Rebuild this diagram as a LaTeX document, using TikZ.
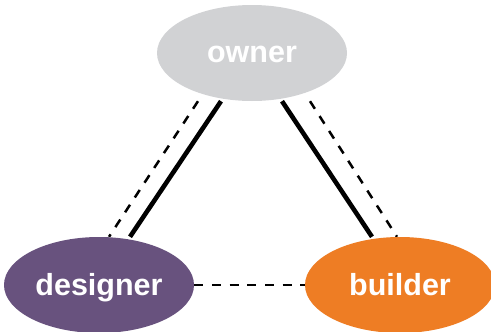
\documentclass[tikz,border=0pt]{standalone}
\usepackage{fontspec}
\setmainfont{Liberation Sans}
\usetikzlibrary{shapes.geometric,backgrounds}
\definecolor{ownergray}{HTML}{D1D2D4}
\definecolor{designerpurple}{HTML}{68527E}
\definecolor{builderorange}{HTML}{EE7D24}
\tikzset{
  party/.style={ellipse, inner sep=0pt, minimum width=190pt, minimum height=96pt,
    text height=20pt, text depth=0pt,
    text=white, font=\fontsize{30.5}{36}\selectfont\bfseries},
  strong/.style={line width=4.6pt},
  weak/.style={line width=2.5pt, dash pattern=on 9pt off 8.7pt},
}
\begin{document}
\begin{tikzpicture}[x=1pt,y=-1pt]
\useasboundingbox (0,0) rectangle (491,332);
\node[party, fill=ownergray] (owner) at (252,53) {owner};
\node[party, fill=designerpurple] (designer) at (99,285) {designer};
\node[party, fill=builderorange] (builder) at (400,285) {builder};
\begin{scope}[on background layer]
\draw[strong] ([xshift=-31pt]owner.south) -- ([xshift=31pt]designer.north);
\draw[weak] ([xshift=-54pt]owner.south) -- ([xshift=10pt]designer.north);
\draw[strong] ([xshift=30pt]owner.south) -- ([xshift=-28pt]builder.north);
\draw[weak] ([xshift=58pt]owner.south) -- ([xshift=-3pt]builder.north);
\draw[weak] (designer.east) -- (builder.west);
\end{scope}
\end{tikzpicture}
\end{document}
